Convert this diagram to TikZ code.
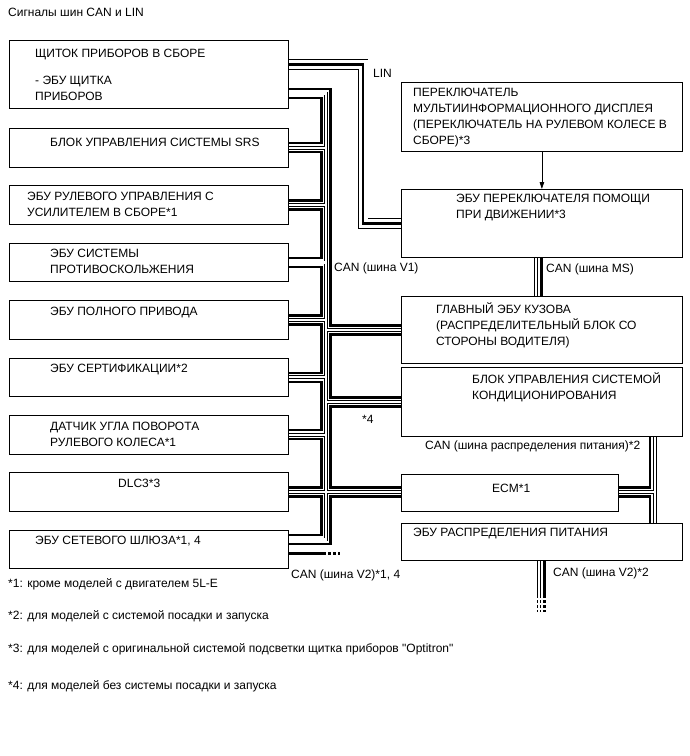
\documentclass[tikz,border=0pt]{standalone}
\usepackage{fontspec}
\setmainfont{Liberation Sans}[Ligatures=TeXOff]
\usetikzlibrary{arrows.meta,calc,backgrounds}
\tikzset{
  unit-box/.style={draw,line width=0.8pt,anchor=north west,inner sep=0pt},
  % multi-line texts sit on the baseline of their last line
  unit-text/.style={anchor=base west,inner sep=0pt,align=left,
    font=\fontsize{12}{16}\selectfont},
  wire-thick/.style={line width=2.4pt},
  wire-out/.style={line width=3.8pt},
  wire-in/.style={draw=white,line width=2.2pt},
  wire-lin/.style={line width=2.6pt,preaction={draw,line width=10.6pt},
    preaction={draw=white,line width=9pt}},
  wire-end/.style={dash pattern=on 3pt off 2pt},
  arrow/.style={-{Triangle[length=7pt,width=4.5pt]},line width=0.8pt},
}
\begin{document}
\begin{tikzpicture}[x=1pt,y=-1pt]
  \useasboundingbox (0,0) rectangle (690,756);
  \node[unit-text] (title) at (8,16) {Сигналы шин CAN и LIN};

  % left column
  \node[unit-box,minimum width=279pt,minimum height=68pt] (b1) at (9,40) {};
  \foreach \i in {2,...,9}
    \node[unit-box,minimum width=279pt,minimum height=38.5pt] (b\i) at (9,{128+57.4*(\i-2)}) {};
  \node[unit-text] (b1-txt) at (35,100) {ЩИТОК ПРИБОРОВ В СБОРЕ\\[10.5pt]- ЭБУ ЩИТКА\\ПРИБОРОВ};
  \node[unit-text] (b2-txt) at (50,146) {БЛОК УПРАВЛЕНИЯ СИСТЕМЫ SRS};
  \node[unit-text] (b3-txt) at (27,216) {ЭБУ РУЛЕВОГО УПРАВЛЕНИЯ С\\УСИЛИТЕЛЕМ В СБОРЕ*1};
  \node[unit-text] (b4-txt) at (50,273) {ЭБУ СИСТЕМЫ\\ПРОТИВОСКОЛЬЖЕНИЯ};
  \node[unit-text] (b5-txt) at (50,315) {ЭБУ ПОЛНОГО ПРИВОДА};
  \node[unit-text] (b6-txt) at (50,372) {ЭБУ СЕРТИФИКАЦИИ*2};
  \node[unit-text] (b7-txt) at (50,446) {ДАТЧИК УГЛА ПОВОРОТА\\РУЛЕВОГО КОЛЕСА*1};
  \node[unit-text] (b8-txt) at (118,487) {DLC3*3};
  \node[unit-text] (b9-txt) at (35,544) {ЭБУ СЕТЕВОГО ШЛЮЗА*1, 4};

  % right column
  \node[unit-box,minimum width=281pt,minimum height=69pt] (r1) at (401,82) {};
  \node[unit-box,minimum width=281pt,minimum height=68pt] (r2) at (401,189) {};
  \node[unit-box,minimum width=281pt,minimum height=67pt] (r3) at (401,296) {};
  \node[unit-box,minimum width=281pt,minimum height=69pt] (r4) at (401,367) {};
  \node[unit-box,minimum width=217pt,minimum height=37pt] (ecm) at (401,474) {};
  \node[unit-box,minimum width=281pt,minimum height=37pt] (r6) at (401,523) {};
  \node[unit-text] (r1-txt) at (413,144) {ПЕРЕКЛЮЧАТЕЛЬ\\МУЛЬТИИНФОРМАЦИОННОГО ДИСПЛЕЯ\\(ПЕРЕКЛЮЧАТЕЛЬ НА РУЛЕВОМ КОЛЕСЕ В\\СБОРЕ)*3};
  \node[unit-text] (r2-txt) at (456,218) {ЭБУ ПЕРЕКЛЮЧАТЕЛЯ ПОМОЩИ\\ПРИ ДВИЖЕНИИ*3};
  \node[unit-text] (r3-txt) at (436,345) {ГЛАВНЫЙ ЭБУ КУЗОВА\\(РАСПРЕДЕЛИТЕЛЬНЫЙ БЛОК СО\\СТОРОНЫ ВОДИТЕЛЯ)};
  \node[unit-text] (r4-txt) at (472,399) {БЛОК УПРАВЛЕНИЯ СИСТЕМОЙ\\КОНДИЦИОНИРОВАНИЯ};
  \node[unit-text] (ecm-txt) at (492,492) {ECM*1};
  \node[unit-text] (r6-txt) at (413,536) {ЭБУ РАСПРЕДЕЛЕНИЯ ПИТАНИЯ};

  \draw[arrow] (r1) -- (r2);

  % bus labels
  \node[unit-text] (lin-lbl) at (373,77) {LIN};
  \node[unit-text] (v1-lbl) at (334,271) {CAN (шина V1)};
  \node[unit-text] (ms-lbl) at (546,272) {CAN (шина MS)};
  \node[unit-text] (n4-lbl) at (362,423) {*4};
  \node[unit-text] (pwr-lbl) at (425,449) {CAN (шина распределения питания)*2};
  \node[unit-text] (v2l-lbl) at (291,578) {CAN (шина V2)*1, 4};
  \node[unit-text] (v2r-lbl) at (553,576) {CAN (шина V2)*2};

  % footnotes
  \node[unit-text] (fn1) at (8,587) {*1: кроме моделей с двигателем 5L-E};
  \node[unit-text] (fn2) at (8,619) {*2: для моделей с системой посадки и запуска};
  \node[unit-text] (fn3) at (8,652) {*3: для моделей с оригинальной системой подсветки щитка приборов "Optitron"};
  \node[unit-text] (fn4) at (8,689) {*4: для моделей без системы посадки и запуска};

  % ports
  \coordinate (trunkL) at (321.5,0);
  \coordinate (trunkH) at (326,0);
  \coordinate (trunkR) at (330.5,0);
  \coordinate (pwrL) at (650,0);
  \coordinate (pwrH) at (655,0);
  \coordinate (linX) at (363,0);
  \coordinate (b1-lin) at ($(b1.east)+(0,-10)$);
  \coordinate (b1-u) at ($(b1.east)+(0,14.5)$);
  \coordinate (b1-m) at ($(b1.east)+(0,19)$);
  \coordinate (b1-d) at ($(b1.east)+(0,23.5)$);
  \foreach \i in {2,...,8}{
    \coordinate (b\i-u) at ($(b\i.east)+(0,-4.5)$);
    \coordinate (b\i-m) at (b\i.east);
    \coordinate (b\i-d) at ($(b\i.east)+(0,4.5)$);
  }
  \coordinate (b9-u) at ($(b9.east)+(0,-14.5)$);
  \coordinate (b9-m) at ($(b9.east)+(0,-10)$);
  \coordinate (b9-d) at ($(b9.east)+(0,-5.5)$);
  \coordinate (b9-v2t) at ($(b9.east)+(0,4)$);
  \coordinate (b9-v2h) at ($(b9.east)+(0,9)$);
  \coordinate (r3-u) at ($(r3.west)+(0,-4.5)$);
  \coordinate (r3-m) at (r3.west);
  \coordinate (r3-d) at ($(r3.west)+(0,4.5)$);
  \coordinate (r4-u) at ($(r4.west)+(0,-4.5)$);
  \coordinate (r4-m) at (r4.west);
  \coordinate (r4-d) at ($(r4.west)+(0,4.5)$);
  \coordinate (ecm-u) at (b8-u -| ecm.west);
  \coordinate (ecm-m) at (b8-m -| ecm.west);
  \coordinate (ecm-d) at (b8-d -| ecm.west);
  \coordinate (ecm-ue) at (b8-u -| ecm.east);
  \coordinate (ecm-me) at (b8-m -| ecm.east);
  \coordinate (ecm-de) at (b8-d -| ecm.east);
  \coordinate (ms-h) at ($(r2.south)+(-6,0)$);
  \coordinate (ms-t) at ($(r2.south)+(-0.5,0)$);
  \coordinate (v2r-h) at ($(r6.south)+(-3,0)$);
  \coordinate (v2r-t) at ($(r6.south)+(2.5,0)$);
  \coordinate (v2l-cut) at (323,0);
  \coordinate (v2l-end) at (340,0);
  \coordinate (v2r-cut) at (0,595);
  \coordinate (v2r-end) at (0,612);

  \begin{scope}[on background layer]
    % LIN
    \draw[wire-lin] (b1-lin) -- (b1-lin -| linX) -- (r2.west -| linX) -- (r2.west);
    % CAN V1, solid wire
    \foreach \i [count=\j from 2] in {1,...,8}
      \draw[wire-thick] (b\i-d) -- (b\i-d -| trunkL) -- (b\j-u -| trunkL) -- (b\j-u);
    \draw[wire-thick] (b1-u) -- (b1-u -| trunkR) -- (r3-u -| trunkR) -- (r3-u);
    \draw[wire-thick] (r3-d) -- (r3-d -| trunkR) -- (r4-u -| trunkR) -- (r4-u);
    \draw[wire-thick] (r4-d) -- (r4-d -| trunkR) -- (ecm-u -| trunkR) -- (ecm-u);
    \draw[wire-thick] (ecm-d) -- (ecm-d -| trunkR) -- (b9-d -| trunkR) -- (b9-d);
    % power distribution bus, MS, V2
    \draw[wire-thick] (r4.south -| pwrL) -- (ecm-ue -| pwrL) -- (ecm-ue);
    \draw[wire-thick] (ecm-de) -- (ecm-de -| pwrL) -- (r6.north -| pwrL);
    \draw[wire-thick] (ms-t) -- (ms-t |- r3.north);
    \draw[wire-thick] (b9-v2t) -- (b9-v2t -| v2l-cut);
    \draw[wire-thick,wire-end] (b9-v2t -| v2l-cut) -- (b9-v2t -| v2l-end);
    \draw[wire-thick] (v2r-t) -- (v2r-t |- v2r-cut);
    \draw[wire-thick,wire-end] (v2r-t |- v2r-cut) -- (v2r-t |- v2r-end);
    % hollow wire
    \foreach \pass in {wire-out,wire-in}{
      \draw[\pass] (b1-m) -- (b1-m -| trunkH) -- (b9-m -| trunkH) -- (b9-m);
      \foreach \i in {2,...,7}
        \draw[\pass] (b\i-m) -- (b\i-m -| trunkH);
      \draw[\pass] (b8-m) -- (ecm-m);
      \draw[\pass] (r3-m -| trunkH) -- (r3-m);
      \draw[\pass] (r4-m -| trunkH) -- (r4-m);
      \draw[\pass] (r4.south -| pwrH) -- (r6.north -| pwrH);
      \draw[\pass] (ecm-me) -- (ecm-me -| pwrH);
      \draw[\pass] (ms-h) -- (ms-h |- r3.north);
      \draw[\pass] (b9-v2h) -- (b9-v2h -| v2l-cut);
      \draw[\pass,wire-end] (b9-v2h -| v2l-cut) -- (b9-v2h -| v2l-end);
      \draw[\pass] (v2r-h) -- (v2r-h |- v2r-cut);
      \draw[\pass,wire-end] (v2r-h |- v2r-cut) -- (v2r-h |- v2r-end);
    }
  \end{scope}
\end{tikzpicture}
\end{document}
